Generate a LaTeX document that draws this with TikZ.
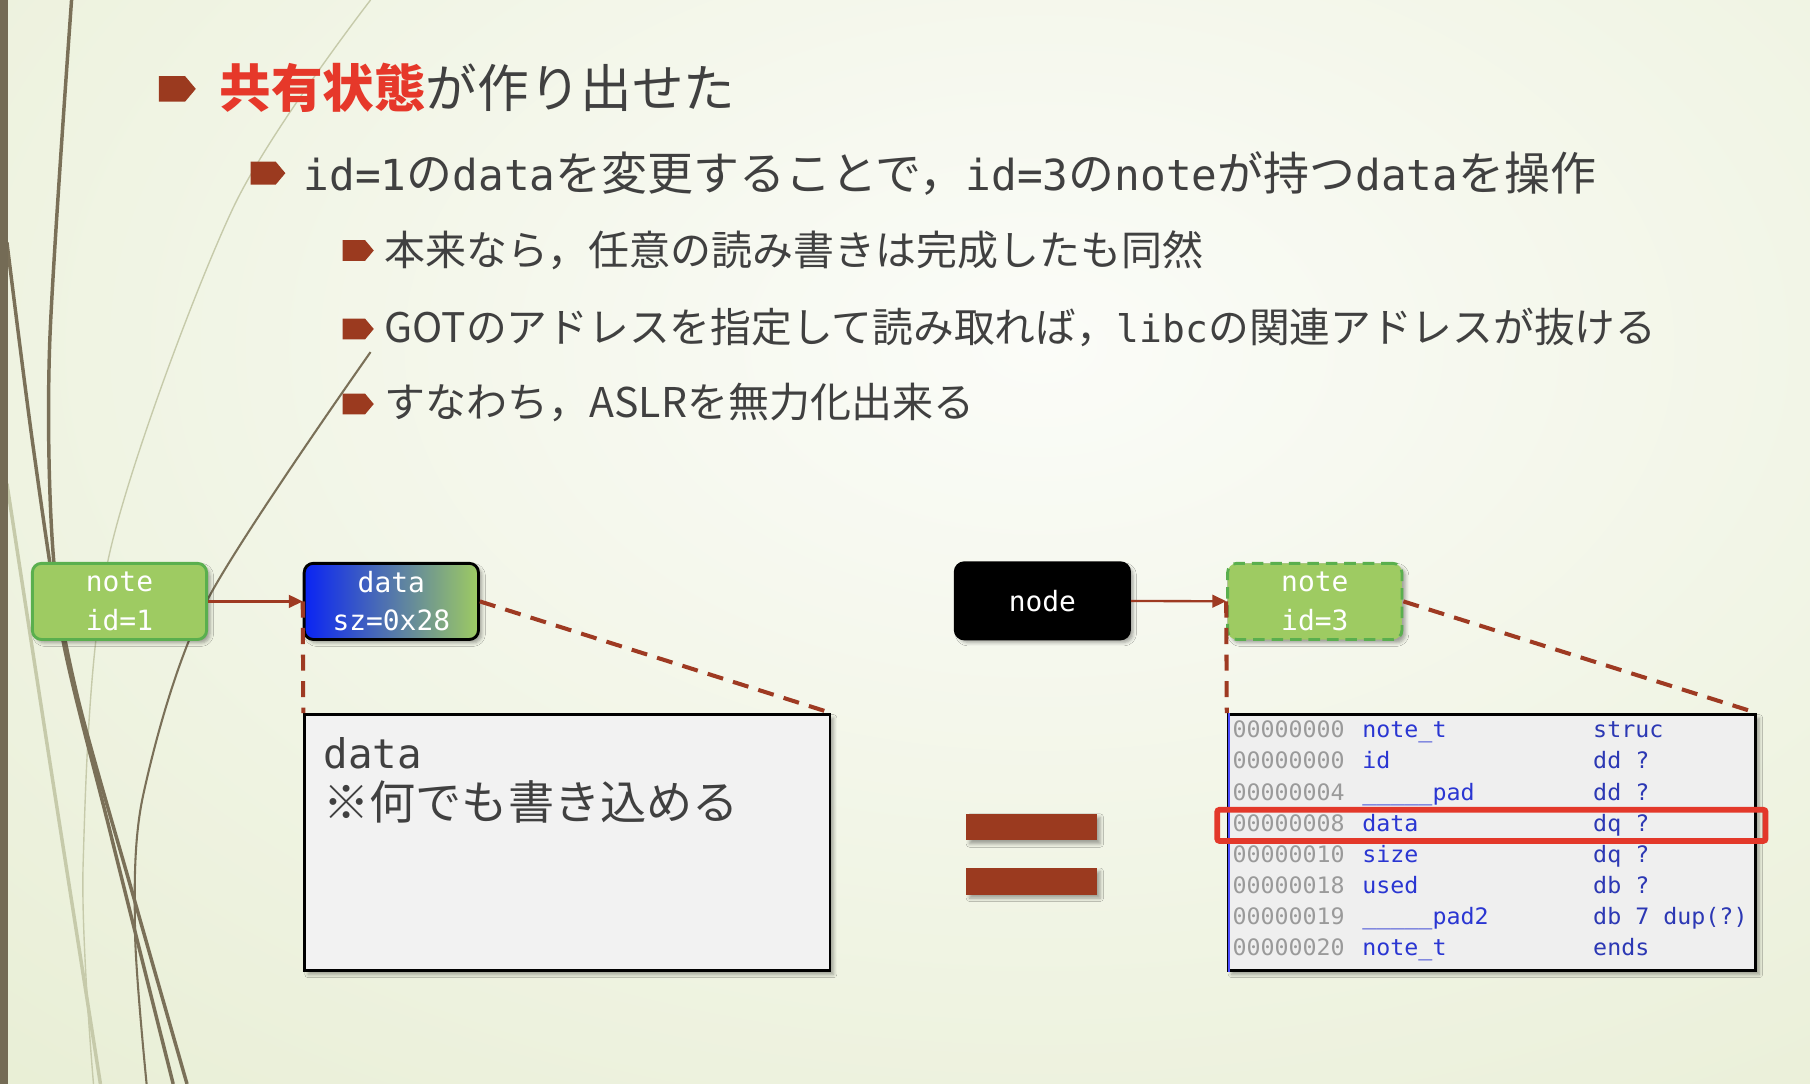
\documentclass[tikz,border=0pt]{standalone}
\usepackage{fontspec}
\setmainfont{Noto Sans CJK JP}
\newfontfamily\mono[Scale=0.93]{DejaVu Sans Mono}
\newfontfamily\idafont[FakeStretch=1.03]{DejaVu Sans Mono}
\usepackage{xcolor}
\usepackage{tikz}
\usetikzlibrary{arrows.meta,backgrounds,positioning,fit,calc,shapes,shadows.blur}

\definecolor{bgcenter}{HTML}{FBFCF8}
\definecolor{bgedge}{HTML}{DDE6C0}
\definecolor{stripbrown}{HTML}{746B55}
\definecolor{vinedark}{HTML}{7A7058}
\definecolor{vinelight}{HTML}{C6CAAA}
\definecolor{slidegray}{HTML}{404040}
\definecolor{headred}{HTML}{E6382A}
\definecolor{bulletred}{HTML}{9B3A1F}
\definecolor{linkred}{HTML}{9E3A22}
\definecolor{notegreen}{HTML}{9ECB62}
\definecolor{notegreenline}{HTML}{5AAF4E}
\definecolor{databluel}{HTML}{0A24F4}
\definecolor{databluem}{HTML}{5E88C4}
\definecolor{memogray}{HTML}{F2F2F2}
\definecolor{idagray}{HTML}{EFEFEF}
\definecolor{idaaddr}{HTML}{9A9A9A}
\definecolor{idaname}{HTML}{2A36D2}
\definecolor{idatype}{HTML}{2C38B4}
\definecolor{pickred}{HTML}{E3382A}

\begin{document}
\begin{tikzpicture}[x=1pt,y=-1pt,
  bullet/.style={signal, signal to=east, signal pointer angle=100, fill=bulletred, inner sep=0pt},
  slidetext/.style={anchor=base west, inner sep=0pt, text=slidegray},
  softshadow/.style={blur shadow={shadow xshift=3pt, shadow yshift=-3pt, shadow blur radius=3pt, shadow opacity=35}},
  notebox/.style={rectangle, rounded corners=8pt, draw=notegreenline, line width=2.5pt, fill=notegreen,
    text=white, align=center, inner sep=0pt, minimum width=151pt, minimum height=66pt,
    font=\mono\fontsize{26}{33}\selectfont, softshadow},
  databox/.style={notebox, draw=black, left color=databluel, middle color=databluem, right color=notegreen},
  listbox/.style={notebox, draw=black, fill=black},
  memobox/.style={rectangle, draw=black, line width=2.5pt, fill=memogray, minimum width=455pt, minimum height=222pt, softshadow},
  idabox/.style={memobox, fill=idagray, minimum width=457pt},
  idacol/.style={anchor=north west, inner sep=0pt, align=left, font=\idafont\fontsize{19.6}{27}\selectfont},
  link/.style={-{Triangle[length=12pt,width=11pt]}, draw=linkred, line width=2pt},
  zoomline/.style={draw=linkred, line width=3.5pt, dash pattern=on 14pt off 9pt},
  eqbar/.style={rectangle, fill=bulletred, minimum width=113pt, minimum height=23pt, inner sep=0pt, softshadow}]
  \useasboundingbox (0,0) rectangle (1568,939);
  % background and left ornament
  \begin{scope}
    \clip (0,0) rectangle (1568,939);
    \shade[inner color=bgcenter, outer color=bgedge] (-1300,-1100) rectangle (3100,1700);
    \draw[vinelight, line width=1.2pt] plot[smooth] coordinates {(321,0) (202,180) (95,479) (72,749) (81,939)};
    \draw[vinelight, line width=3pt] plot[smooth] coordinates {(6,419) (43,659) (87,939)};
    \draw[vinedark, line width=3pt] plot[smooth] coordinates {(62,0) (43,299) (46,479) (66,599) (116,778) (162,939)};
    \draw[vinedark, line width=3pt] plot[smooth] coordinates {(6,210) (29,389) (55,557) (95,719) (150,939)};
    \draw[vinedark, line width=1.8pt] plot[smooth] coordinates {(321,305) (179,521) (124,689) (117,808) (127,939)};
    \fill[stripbrown] (0,0) rectangle (7,939);
  \end{scope}

  % bullet list
  \node (headmark) [bullet, minimum width=32pt, minimum height=22pt] at (149,77) {};
  \node (head) [slidetext, font=\fontsize{44.7}{50}\selectfont] at (190,93) {\textcolor{headred}{\bfseries 共有状態}が作り出せた};
  \node (submark) [bullet, minimum width=30pt, minimum height=20pt] at (228,150) {};
  \node (sub) [slidetext, font=\fontsize{39.8}{44}\selectfont] at (263,165) {{\mono id=1}の{\mono data}を変更することで，{\mono id=3}の{\mono note}が持つ{\mono data}を操作};
  \node (pointa) [bullet, minimum width=27pt, minimum height=18pt] at (306.5,217) {};
  \node (texta) [slidetext, font=\fontsize{35.5}{40}\selectfont] at (333,230) {本来なら，任意の読み書きは完成したも同然};
  \node (pointb) [bullet, minimum width=27pt, minimum height=18pt] at (306.5,285) {};
  \node (textb) [slidetext, font=\fontsize{35.3}{40}\selectfont] at (333,297) {GOTのアドレスを指定して読み取れば，{\mono libc}の関連アドレスが抜ける};
  \node (pointc) [bullet, minimum width=27pt, minimum height=18pt] at (306.5,350) {};
  \node (textc) [slidetext, font=\fontsize{35.5}{40}\selectfont] at (333,362) {すなわち，ASLRを無力化出来る};

  % left: note id=1 and its data
  \node (note1) [notebox] at (103.5,521) {note\\id=1};
  \node (data1) [databox] at (339,521) {data\\sz=0x28};
  \node (mem) [memobox] at (491.5,730) {};
  \node (memo1) [slidetext, font=\mono\fontsize{38}{44}\selectfont] at (280,666) {data};
  \node (memo2) [slidetext, font=\fontsize{40}{44}\selectfont] at (280,710) {※何でも書き込める};
  \draw[link] (note1) -- (data1);
  \draw[zoomline] (data1.west) -- (mem.north west);
  \draw[zoomline] (data1.east) -- (mem.north east);

  % equals
  \node (eqtop) [eqbar] at (893.5,716.5) {};
  \node (eqbottom) [eqbar] at (893.5,763.5) {};

  % right: node and note id=3
  \node (list) [listbox] at (903,520.5) {node};
  \node (note3) [notebox, dash pattern=on 10pt off 6pt] at (1139,521) {note\\id=3};
  \node (layout) [idabox] at (1292.5,730) {};
  \draw[blue!70, line width=1.5pt] ([xshift=2pt]layout.north west) -- ([xshift=2pt]layout.south west);
  \node (addr) [idacol, text=idaaddr] at (1067.5,620) {\strut 00000000\\\strut 00000000\\\strut 00000004\\\strut 00000008\\\strut 00000010\\\strut 00000018\\\strut 00000019\\\strut 00000020};
  \node (field) [idacol, text=idaname] at (1180,620) {\strut note\_t\\\strut id\\\strut \_\_\_\_\_pad\\\strut data\\\strut size\\\strut used\\\strut \_\_\_\_\_pad2\\\strut note\_t};
  \node (kind) [idacol, text=idatype] at (1380,620) {\strut struc\\\strut dd ?\\\strut dd ?\\\strut dq ?\\\strut dq ?\\\strut db ?\\\strut db 7 dup(?)\\\strut ends};
  \node (pick) [draw=pickred, line width=5pt, rounded corners=2pt, inner sep=0pt, minimum width=475pt, minimum height=27pt] at (1292,715) {};
  \draw[link] (list) -- (note3);
  \draw[zoomline] (note3.west) -- (layout.north west);
  \draw[zoomline] (note3.east) -- (layout.north east);
\end{tikzpicture}
\end{document}
